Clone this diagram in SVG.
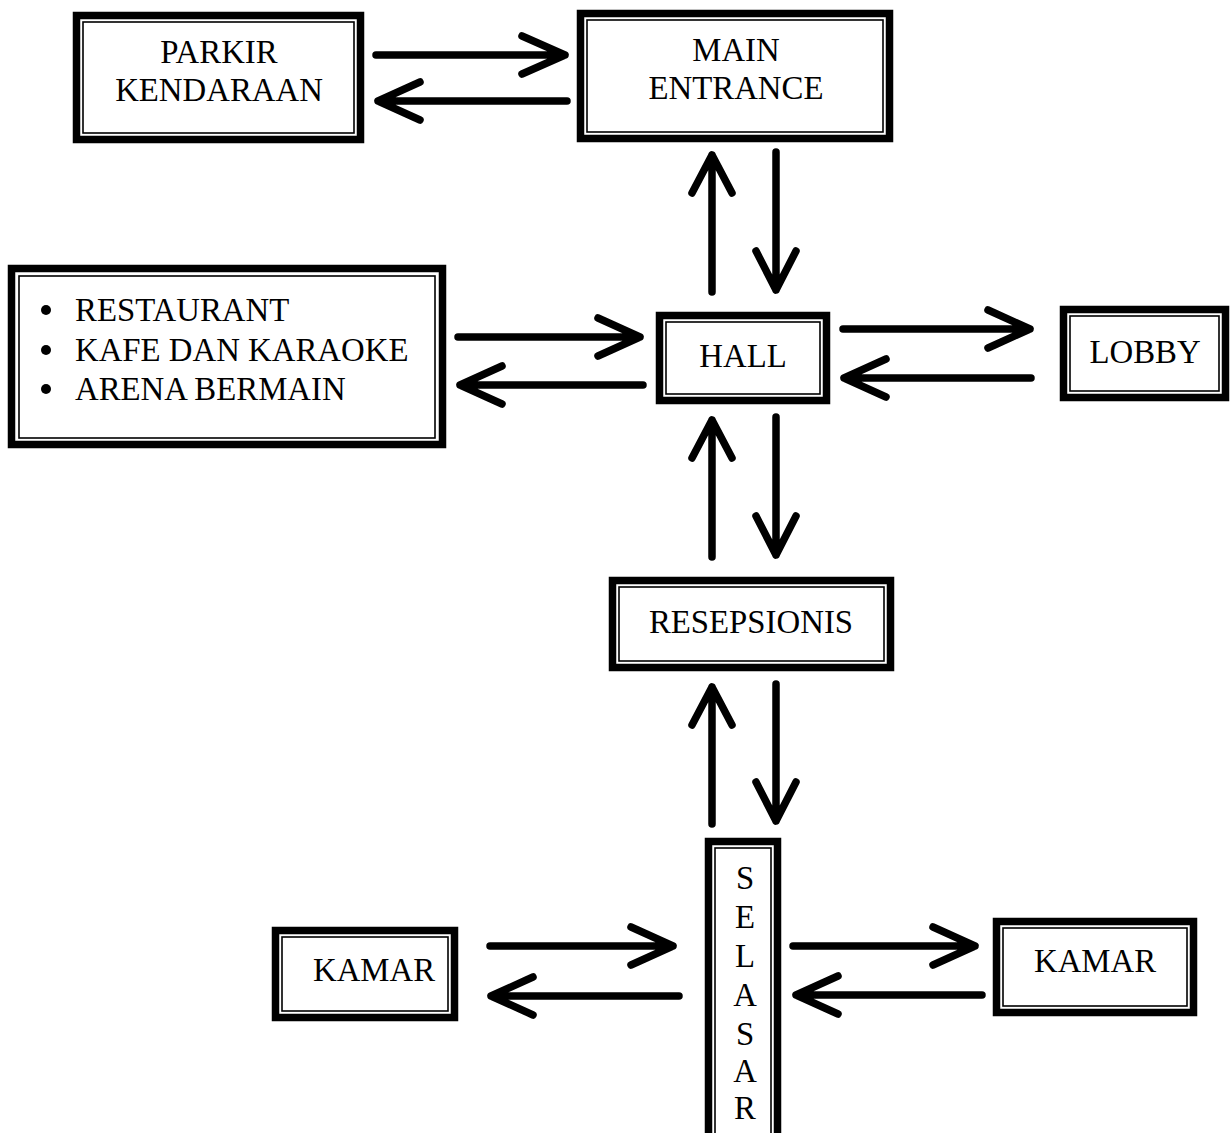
<svg xmlns="http://www.w3.org/2000/svg" width="1231" height="1133" viewBox="0 0 1231 1133">
<style>
.o{fill:#fff;stroke:#000;stroke-width:7.5}
.i{fill:none;stroke:#000;stroke-width:1.6}
.t{font-family:"Liberation Serif","Times New Roman",serif;font-size:32.8px;fill:#000}
.c{text-anchor:middle}
.a{fill:none;stroke:#000;stroke-width:7.5;stroke-linecap:round;stroke-linejoin:round}
</style>
<rect width="1231" height="1133" fill="#fff"/>
<g id="parkir">
<rect class="o" x="76.5" y="15.5" width="284" height="124"/>
<rect class="i" x="83" y="22" width="271" height="111"/>
<text class="t c" x="219" y="63">PARKIR</text>
<text class="t c" x="219" y="101">KENDARAAN</text>
</g>
<g id="main-entrance">
<rect class="o" x="580.5" y="13.5" width="309" height="125"/>
<rect class="i" x="587" y="20" width="296" height="112"/>
<text class="t c" x="736" y="61">MAIN</text>
<text class="t c" x="736" y="99">ENTRANCE</text>
</g>
<g id="fasilitas">
<rect class="o" x="11.5" y="268.5" width="431" height="176"/>
<rect class="i" x="19" y="276" width="416" height="162"/>
<circle cx="46" cy="310" r="5"/>
<circle cx="46" cy="350" r="5"/>
<circle cx="46" cy="389" r="5"/>
<text class="t" x="75" y="321">RESTAURANT</text>
<text class="t" x="75" y="361">KAFE DAN KARAOKE</text>
<text class="t" x="75" y="400">ARENA BERMAIN</text>
</g>
<g id="hall">
<rect class="o" x="659.5" y="315.5" width="167" height="85"/>
<rect class="i" x="666" y="322" width="154" height="72"/>
<text class="t c" x="743" y="367">HALL</text>
</g>
<g id="lobby">
<rect class="o" x="1063.5" y="309.5" width="162" height="88"/>
<rect class="i" x="1070" y="316" width="149" height="75"/>
<text class="t c" x="1145" y="363">LOBBY</text>
</g>
<g id="resepsionis">
<rect class="o" x="612.5" y="580.5" width="278" height="87"/>
<rect class="i" x="619" y="587" width="265" height="74"/>
<text class="t c" x="751" y="633">RESEPSIONIS</text>
</g>
<g id="selasar">
<rect class="o" x="708.5" y="841.5" width="69" height="320"/>
<rect class="i" x="715" y="848" width="56" height="310"/>
<text class="t c" x="745" y="889">S</text>
<text class="t c" x="745" y="928">E</text>
<text class="t c" x="745" y="967">L</text>
<text class="t c" x="745" y="1006">A</text>
<text class="t c" x="745" y="1045">S</text>
<text class="t c" x="745" y="1082">A</text>
<text class="t c" x="745" y="1119">R</text>
</g>
<g id="kamar-kiri">
<rect class="o" x="275.5" y="930.5" width="179" height="87"/>
<rect class="i" x="282" y="937" width="166" height="74"/>
<text class="t c" x="374" y="981">KAMAR</text>
</g>
<g id="kamar-kanan">
<rect class="o" x="996.5" y="921.5" width="197" height="91"/>
<rect class="i" x="1003" y="928" width="184" height="78"/>
<text class="t c" x="1095" y="972">KAMAR</text>
</g>
<g id="connectors">
<path class="a" d="M376 55H565M522 36L565 55L522 74"/>
<path class="a" d="M567 101H378M420 82L378 101L420 120"/>
<path class="a" d="M712 292V155M692 193L712 155L732 193"/>
<path class="a" d="M776 152V290M756 251L776 290L796 251"/>
<path class="a" d="M458 337H640M598 318L640 337L598 356"/>
<path class="a" d="M643 385H460M502 366L460 385L502 404"/>
<path class="a" d="M843 329H1030M988 310L1030 329L988 348"/>
<path class="a" d="M1031 378H844M886 359L844 378L886 397"/>
<path class="a" d="M712 557V420M692 458L712 420L732 458"/>
<path class="a" d="M776 417V555M756 516L776 555L796 516"/>
<path class="a" d="M712 824V687M692 725L712 687L732 725"/>
<path class="a" d="M776 684V821M756 782L776 821L796 782"/>
<path class="a" d="M490 946H673M631 927L673 946L631 965"/>
<path class="a" d="M679 996H491M533 977L491 996L533 1015"/>
<path class="a" d="M793 946H975M933 927L975 946L933 965"/>
<path class="a" d="M982 995H796M838 976L796 995L838 1014"/>
</g>
</svg>
